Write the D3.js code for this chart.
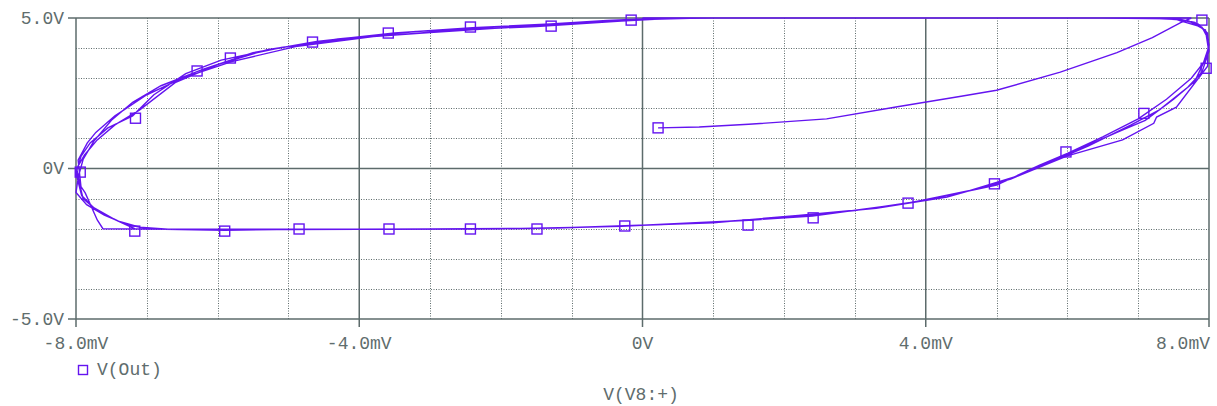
<!DOCTYPE html>
<html>
<head>
<meta charset="utf-8">
<script src="https://cdn.jsdelivr.net/npm/d3@7"></script>
<style>
  html, body { margin: 0; padding: 0; background: #ffffff; }
  svg { display: block; }
  text { font-family: "Liberation Mono", "Courier New", monospace; }
</style>
</head>
<body>
<svg id="chart" width="1217" height="406"></svg>
<script>
// ---------- data ----------
const xTicks = [-8, -4, 0, 4, 8];
const xTickLabels = ["-8.0mV", "-4.0mV", "0V", "4.0mV", "8.0mV"];
const yTicks = [-5, 0, 5];
const yTickLabels = ["-5.0V", "0V", "5.0V"];
const xMinor = [-7, -6, -5, -3, -2, -1, 1, 2, 3, 5, 6, 7];
const yMinor = [-4, -3, -2, -1, 1, 2, 3, 4];
const seriesName = "V(Out)";
const xAxisTitle = "V(V8:+)";

// initial transient (mV, V)
const startSegment = [[0.22,1.35],[0.8,1.38],[1.5,1.47],[2.6,1.65],[3.6,2.05],[4.5,2.4],[5.0,2.6],[5.9,3.2],[6.7,3.85],[7.2,4.35],[7.6,4.85],[7.75,5.0]];
// successive loops of the hysteresis trace
const cycle1 = [[7.0,5.0],[4.0,5.0],[1.0,5.0],[0.0,4.97],[-0.5,4.92],[-1.3,4.8],[-2.4,4.68],[-3.5,4.5],[-4.6,4.22],[-5.5,3.85],[-6.2,3.3],[-6.8,2.75],[-7.2,2.2],[-7.5,1.6],[-7.75,0.9],[-7.9,0.3],[-7.97,-0.3],[-8.0,-0.8],[-7.85,-1.2],[-7.6,-1.55],[-7.3,-1.85],[-7.0,-2.0],[-6.0,-2.03],[-4.0,-2.02],[-2.0,-2.0],[-1.0,-1.96],[0.0,-1.88],[1.0,-1.78],[2.0,-1.62],[3.0,-1.4],[4.0,-1.05],[5.0,-0.55],[5.6,0.1],[6.0,0.5],[6.5,1.05],[7.0,1.65],[7.4,2.3],[7.75,3.0],[7.95,3.6],[8.0,4.1],[7.96,4.55],[7.85,4.8],[7.6,4.95],[7.0,5.0]];
const cycle2 = [[4.0,5.0],[0.5,5.0],[-0.3,4.9],[-1.5,4.72],[-2.6,4.6],[-3.8,4.38],[-4.9,4.05],[-5.8,3.55],[-6.5,3.0],[-7.0,2.45],[-7.45,1.75],[-7.72,1.2],[-7.84,0.85],[-7.97,0.28],[-7.93,-0.6],[-7.87,-0.81],[-7.7,-1.71],[-7.62,-2.0],[-6.5,-2.02],[-4.5,-2.02],[-2.5,-2.01],[-1.2,-1.98],[0.3,-1.86],[1.5,-1.72],[2.5,-1.52],[3.5,-1.25],[4.5,-0.82],[5.3,-0.25],[6.0,0.42],[6.78,0.95],[7.22,1.5],[7.26,1.71],[7.54,2.04],[7.98,3.4],[7.99,4.3],[7.9,4.7],[7.5,4.97],[6.5,5.0]];
const cycle3 = [[4.0,5.0],[0.8,5.0],[0.0,4.95],[-0.8,4.85],[-2.0,4.72],[-3.2,4.55],[-4.3,4.3],[-5.3,3.95],[-6.0,3.45],[-6.6,2.85],[-7.1,1.95],[-7.45,1.45],[-7.7,0.95],[-7.88,0.45],[-7.99,0.0],[-7.95,-0.5],[-7.9,-1.0],[-7.7,-1.4],[-7.4,-1.75],[-7.1,-1.95],[-6.6,-2.03],[-5.0,-2.03],[-3.0,-2.01],[-1.5,-1.99],[-0.3,-1.92],[1.5,-1.72],[2.4,-1.58],[3.75,-1.15],[4.9,-0.6],[5.5,-0.05],[6.3,0.75],[6.9,1.45],[7.3,1.95],[7.7,2.7],[7.9,3.2],[8.0,3.9],[7.98,4.5],[7.8,4.85],[7.5,5.0],[6.0,5.0]];
const cycle4 = [[4.0,5.0],[0.3,5.0],[-0.6,4.88],[-1.8,4.7],[-3.0,4.52],[-4.1,4.33],[-5.1,4.02],[-5.95,3.6],[-6.45,3.15],[-6.9,2.45],[-7.2,1.75],[-7.55,1.35],[-7.8,0.85],[-7.93,0.4],[-8.0,-0.15],[-7.92,-0.9],[-7.75,-1.3],[-7.45,-1.7],[-7.17,-2.0],[-5.9,-2.05],[-4.85,-2.02],[-3.6,-2.02],[-2.4,-2.01],[-1.4,-1.99],[-0.25,-1.9],[1.0,-1.8],[2.2,-1.56],[3.3,-1.32],[4.3,-0.95],[5.2,-0.35],[5.98,0.45],[6.7,1.2],[7.1,1.6],[7.5,2.3],[7.8,2.9],[7.92,3.5],[7.99,4.0],[7.95,4.6],[7.7,4.92],[7.2,5.0],[0.0,5.0]];
// marker symbols along the trace
const markers = [[0.22,1.35],[-0.16,4.93],[-1.29,4.73],[-2.43,4.70],[-3.59,4.50],[-4.66,4.20],[-5.82,3.67],[-6.29,3.24],[-7.16,1.67],[-7.94,-0.12],[-7.17,-2.08],[-5.9,-2.08],[-4.85,-2.01],[-3.58,-2.01],[-2.43,-2.01],[-1.49,-2.01],[-0.25,-1.91],[1.49,-1.88],[2.41,-1.64],[3.75,-1.15],[4.97,-0.51],[5.98,0.55],[7.08,1.83],[7.96,3.33],[7.9,4.93]];

// ---------- layout ----------
const colAxis = "#5d6b6b";
const colText = "#5f6d6d";
const colTrace = "#6414f0";
const pL = 76, pR = 1209, pT = 18, pB = 319;

const svg = d3.select("#chart");
const x = d3.scaleLinear().domain([-8, 8]).range([pL, pR]);
const y = d3.scaleLinear().domain([-5, 5]).range([pB, pT]);

// minor dotted grid
const g = svg.append("g");
g.selectAll("line.vminor").data(xMinor).enter().append("line")
  .attr("x1", d => Math.round(x(d)) + 0.5).attr("x2", d => Math.round(x(d)) + 0.5)
  .attr("y1", pT).attr("y2", pB)
  .attr("stroke", colAxis).attr("stroke-width", 1).attr("stroke-dasharray", "1,1.5");
g.selectAll("line.hminor").data(yMinor).enter().append("line")
  .attr("y1", d => Math.round(y(d)) + 0.5).attr("y2", d => Math.round(y(d)) + 0.5)
  .attr("x1", pL).attr("x2", pR)
  .attr("stroke", colAxis).attr("stroke-width", 1).attr("stroke-dasharray", "1,1.5");

// major solid lines
g.selectAll("line.vmajor").data(xTicks).enter().append("line")
  .attr("x1", d => x(d)).attr("x2", d => x(d))
  .attr("y1", pT).attr("y2", pB + 8)
  .attr("stroke", colAxis).attr("stroke-width", 1.5);
g.selectAll("line.hmajor").data(yTicks).enter().append("line")
  .attr("y1", d => y(d)).attr("y2", d => y(d))
  .attr("x1", pL - 8).attr("x2", pR)
  .attr("stroke", colAxis).attr("stroke-width", 1.5);

// tick labels
svg.selectAll("text.xl").data(xTicks).enter().append("text")
  .attr("x", (d, i) => i === xTicks.length - 1 ? x(d) + 1 : x(d))
  .attr("y", pB + 25)
  .attr("text-anchor", (d, i) => i === xTicks.length - 1 ? "end" : "middle")
  .attr("dominant-baseline", "middle")
  .attr("font-size", 18).attr("fill", colText)
  .text((d, i) => xTickLabels[i]);
svg.selectAll("text.yl").data(yTicks).enter().append("text")
  .attr("x", pL - 12).attr("y", d => y(d) + 1)
  .attr("text-anchor", "end").attr("dominant-baseline", "middle")
  .attr("font-size", 18).attr("fill", colText)
  .text((d, i) => yTickLabels[i]);

// trace
const line = d3.line().x(d => x(d[0])).y(d => y(d[1]));
const trace = [].concat(startSegment, cycle1, cycle2, cycle3, cycle4);
svg.append("path").datum(trace)
  .attr("d", line).attr("fill", "none")
  .attr("stroke", colTrace).attr("stroke-width", 1.4).attr("stroke-linejoin", "miter");

// markers
const ms = 10;
svg.selectAll("rect.mk").data(markers).enter().append("rect")
  .attr("x", d => x(d[0]) - ms / 2).attr("y", d => y(d[1]) - ms / 2)
  .attr("width", ms).attr("height", ms)
  .attr("fill", "none").attr("stroke", colTrace).attr("stroke-width", 1.4);

// legend
svg.append("rect").attr("x", 78.5).attr("y", 365.5).attr("width", 9).attr("height", 9)
  .attr("fill", "none").attr("stroke", colTrace).attr("stroke-width", 1.4);
svg.append("text").attr("x", 97).attr("y", 370)
  .attr("dominant-baseline", "middle").attr("font-size", 18).attr("fill", colText)
  .text(seriesName);

// x axis title
svg.append("text").attr("x", 641).attr("y", 395)
  .attr("text-anchor", "middle").attr("dominant-baseline", "middle")
  .attr("font-size", 18).attr("fill", colText)
  .text(xAxisTitle);
</script>
</body>
</html>
